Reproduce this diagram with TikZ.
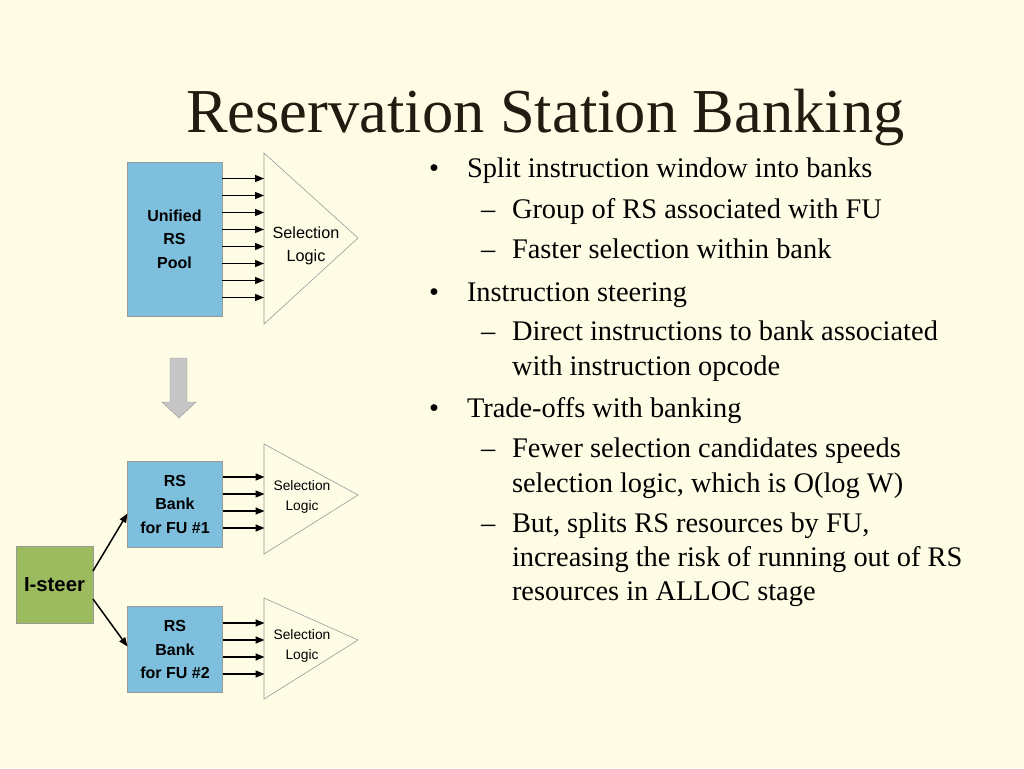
\documentclass[tikz,border=0pt]{standalone}
\usepackage{fontspec}
\setmainfont{Liberation Serif}
\setsansfont{Liberation Sans}
\usetikzlibrary{arrows.meta,positioning}
\definecolor{slidebg}{HTML}{FFFCE6}
\definecolor{rsblue}{HTML}{7DBFDD}
\definecolor{steergreen}{HTML}{9BBB5E}
\definecolor{edgegray}{HTML}{999999}
\definecolor{titlecol}{HTML}{231A10}
\begin{document}
\begin{tikzpicture}
	[
		x=1pt, y=-1pt,
		every node/.style = {inner sep=0pt, outer sep=0pt},
		rsbox/.style = {
			rectangle, draw=edgegray, fill=rsblue, line width=0.8pt,
			align=center, font=\sffamily\bfseries\fontsize{16}{23.5}\selectfont,
			minimum width=95, minimum height=86
		},
		steerbox/.style = {
			rectangle, draw=edgegray, fill=steergreen, line width=0.8pt,
			font=\sffamily\bfseries\fontsize{20.3}{24}\selectfont,
			minimum width=77, minimum height=77
		},
		gate/.style = {draw=gray!80, line width=0.6pt},
		gatetext/.style = {align=center, font=\sffamily\fontsize{13.8}{20}\selectfont},
		feed/.style = {-{Triangle[length=9pt,width=7pt]}, line width=1.5pt},
		lvlone/.style = {anchor=base west, font=\fontsize{28.4}{35}\selectfont},
		lvltwo/.style = {anchor=base west, font=\fontsize{28.4}{35}\selectfont}
	]
	% slide
	\fill[slidebg] (0,0) rectangle (1024,768);
	\useasboundingbox (0,0) rectangle (1024,768);
	\node[anchor=base west, text=titlecol, font=\fontsize{62.5}{70}\selectfont] (title)
		at (186,132) {Reservation Station Banking};

	% unified pool
	\node[rsbox, minimum height=154] (pool) at (174.5,239) {Unified\\RS\\Pool};
	\draw[gate] (264,153) -- (358,238) -- (264,324) -- cycle;
	\node[gatetext, font=\sffamily\fontsize{16.2}{23.5}\selectfont] (selA) at (306,246) {Selection\\Logic};
	\foreach \i in {0,...,7}
		\draw[feed] ([yshift=-16.5-17*\i]pool.north east) -- ++(42,0);

	% block arrow
	\fill[gray!45, draw=gray!85] (170,358) -- (187,358) -- (187,402) -- (196,402)
		-- (179,418) -- (162,402) -- (170,402) -- cycle;

	% banked
	\node[rsbox] (bankA) at (175,504) {RS\\Bank\\for FU \#1};
	\node[rsbox] (bankB) at (175,649.5) {RS\\Bank\\for FU \#2};
	\node[steerbox] (steer) at (54.5,584.5) {I-steer};
	\draw[gate] (264,444) -- (358,495) -- (264,554) -- cycle;
	\draw[gate] (264,598) -- (358,640) -- (264,699) -- cycle;
	\node[gatetext] (selB) at (302,497) {Selection\\Logic};
	\node[gatetext] (selC) at (302,646) {Selection\\Logic};
	\foreach \i in {0,...,3} {
		\draw[feed] ([yshift=-16-17*\i]bankA.north east) -- ++(42,0);
		\draw[feed] ([yshift=-16.5-17*\i]bankB.north east) -- ++(42,0);
	}
	\draw[feed] ([yshift=-25]steer.north east) -- ([yshift=-9.5]bankA.west);
	\draw[feed] ([yshift=24]steer.south east) -- ([yshift=3]bankB.west);

	% bullets
	\foreach \y in {177,301,417}
		\node[lvlone] at (429,\y) {•};
	\foreach \y in {218,258,340,457,532}
		\node[lvltwo] at (481,\y) {–};
	\node[lvlone] (ptA) at (467,177) {Split instruction window into banks};
	\node[lvltwo] (ptAa) at (512,218) {Group of RS associated with FU};
	\node[lvltwo] (ptAb) at (512,258) {Faster selection within bank};
	\node[lvlone] (ptB) at (467,301) {Instruction steering};
	\node[lvltwo] (ptBa) at (512,340) {Direct instructions to bank associated};
	\node[lvltwo] (ptBa2) at (512,375) {with instruction opcode};
	\node[lvlone] (ptC) at (467,417) {Trade-offs with banking};
	\node[lvltwo] (ptCa) at (512,457) {Fewer selection candidates speeds};
	\node[lvltwo] (ptCa2) at (512,492) {selection logic, which is O(log W)};
	\node[lvltwo] (ptCb) at (512,532) {But, splits RS resources by FU,};
	\node[lvltwo] (ptCb2) at (512,566) {increasing the risk of running out of RS};
	\node[lvltwo] (ptCb3) at (512,600) {resources in ALLOC stage};
\end{tikzpicture}
\end{document}
